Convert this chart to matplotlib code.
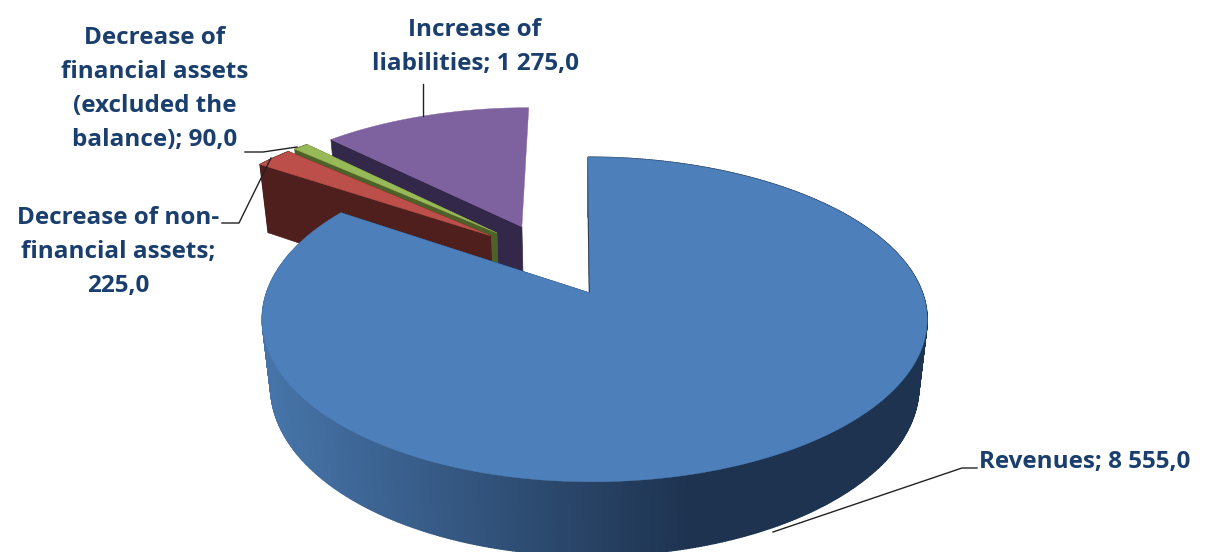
import numpy as np
import matplotlib
matplotlib.use('Agg')
import matplotlib.pyplot as plt

# pie values, drawn clockwise from 12 o'clock
names = ['Revenues', 'Decrease of non-financial assets',
         'Decrease of financial assets (excluded the balance)', 'Increase of liabilities']
values = [8555.0, 225.0, 90.0, 1275.0]
top_colors = ['#4d7fba', '#bd4f4b', '#98b957', '#7e62a0']
wall_colors = ['#1e3350', '#4e1f1c', '#4e6128', '#33274a']
# how far each slice is pulled out of the pie, in disk units
explode_u = [0.0, -0.32, -0.30, -0.22]
explode_v = [0.0, 0.385, 0.405, 0.45]

CX, CY = 590, 293
A, B, K = 328, 158, 0.163
BOTTOM_SCALE = 0.975
TEXT = '#1a3f6f'


def project(u, v, low=False, main=False):
    # perspective view of the pie disk, low=True gives the bottom plane
    u = np.asarray(u, dtype=float)
    v = np.asarray(v, dtype=float)
    w = 1 + K * v
    s = BOTTOM_SCALE if low else 1.0
    x = A * u / w * s - 2 * v
    y = -B * v / w * s
    if main:
        x = x + 4.5 * u ** 2
    if low:
        y = y + (66 if main else 75) / w
    return CX + x, CY + y


def mix(c1, c2, t):
    a = np.array(matplotlib.colors.to_rgb(c1))
    b = np.array(matplotlib.colors.to_rgb(c2))
    return tuple(a + (b - a) * t)


fig = plt.figure(figsize=(12.11, 5.52), dpi=100)
ax = fig.add_axes([0, 0, 1, 1])
ax.set_xlim(0, 1211)
ax.set_ylim(552, 0)
ax.axis('off')

total = sum(values)
edges = np.cumsum([0] + values) / total * 2 * np.pi

# back slices first, the big one goes over them
for order, i in enumerate([3, 2, 1, 0]):
    th = np.linspace(edges[i], edges[i + 1], max(int((edges[i + 1] - edges[i]) * 120), 8))
    u = np.sin(th) + explode_u[i]
    v = np.cos(th) + explode_v[i]
    u0, v0 = explode_u[i], explode_v[i]
    main = i == 0
    z = order + 1

    # cut walls, the right one of the purple slice faces away
    for k in ([0] if i == 3 else [0, -1]):
        xt, yt = project([u0, u[k]], [v0, v[k]], main=main)
        xb, yb = project([u0, u[k]], [v0, v[k]], low=True, main=main)
        ax.fill(np.r_[xt, xb[::-1]], np.r_[yt, yb[::-1]], color=wall_colors[i], lw=0.5, zorder=z)

    # rim, shaded along the arc for the big slice
    xt, yt = project(u, v, main=main)
    xb, yb = project(u, v, low=True, main=main)
    if i != 3:
        for j in range(len(th) - 1):
            if main:
                t = np.clip((xt[j] - 270) / 420, 0, 1)
                col = mix('#4674a8', wall_colors[0], t)
            else:
                col = wall_colors[i]
            ax.fill([xt[j], xt[j + 1], xb[j + 1], xb[j]], [yt[j], yt[j + 1], yb[j + 1], yb[j]],
                    color=col, lw=1.0, zorder=z)

    # top face
    ax0, ay0 = project(u0, v0, main=main)
    ax.fill(np.r_[ax0, xt], np.r_[ay0, yt], color=top_colors[i], lw=0.3, zorder=z + 0.5)

# value labels
font = dict(family='Open Sans', fontweight='bold', fontsize=17.5, color=TEXT, ha='center', va='center',
            linespacing=1.55, zorder=10)
ax.text(155, 89, 'Decrease of\nfinancial assets\n(excluded the\nbalance); 90,0', **font)
ax.text(475, 47, 'Increase of\nliabilities; 1 275,0', **font)
ax.text(118, 252, 'Decrease of non-\nfinancial assets;\n225,0', **font)
ax.text(1085, 462, 'Revenues; 8 555,0', **font)

# leader lines
line = dict(color='#222222', lw=1.0, zorder=9)
ax.plot([423, 423], [84, 116], **line)
ax.plot([245, 263, 297], [152, 152, 147], **line)
ax.plot([222, 239, 271], [223, 223, 158], **line)
ax.plot([977, 962, 773], [468, 468, 532], **line)

fig.savefig('out.png', dpi=100)
